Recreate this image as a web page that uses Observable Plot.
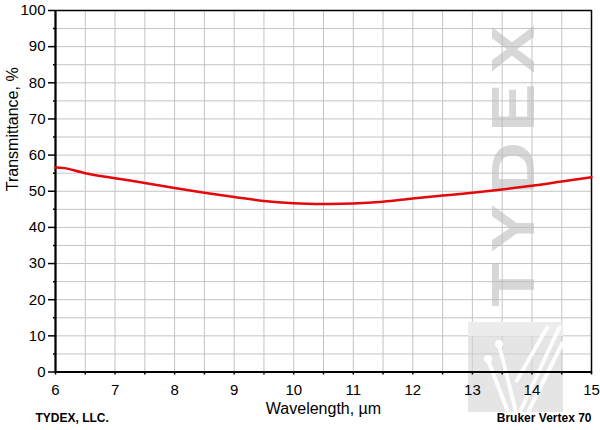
<!DOCTYPE html>
<html><head><meta charset="utf-8">
<script src="https://cdn.jsdelivr.net/npm/d3@7"></script>
<script src="https://cdn.jsdelivr.net/npm/@observablehq/plot@0.6"></script>
<style>
body{margin:0;background:#fff}
#chart svg{font-family:"Liberation Sans",Arial,sans-serif;background:#fff}
</style>
</head><body><div id="chart"></div>
<script>
const wavelength = [6.0, 6.15, 6.5, 7.0, 7.5, 8.0, 8.5, 9.0, 9.5, 10.0, 10.5, 11.0, 11.5, 12.0, 12.5, 13.0, 13.5, 14.0, 14.5, 15.0];
const transmittance = [56.6, 56.4, 55.0, 53.6, 52.3, 50.9, 49.6, 48.4, 47.3, 46.7, 46.5, 46.6, 47.1, 48.0, 48.8, 49.6, 50.5, 51.5, 52.7, 53.9];
const xMajor = [6, 7, 8, 9, 10, 11, 12, 13, 14, 15];
const xMinor = [6.5, 7.5, 8.5, 9.5, 10.5, 11.5, 12.5, 13.5, 14.5];
const yMajor = [0, 10, 20, 30, 40, 50, 60, 70, 80, 90, 100];
const yMinor = [5, 15, 25, 35, 45, 55, 65, 75, 85, 95];
const xLabel = "Wavelength, µm";
const yLabel = "Transmittance, %";
const leftNote = "TYDEX, LLC.";
const rightNote = "Bruker Vertex 70";
const watermark = "TYDEX";

const data = wavelength.map((w, i) => ({w, t: transmittance[i]}));

function watermarkMark(index, scales, values, dim) {
  const g = d3.create("svg:g");
  const cx = dim.width - dim.marginRight - 79;
  const cy = dim.marginTop + 151;
  g.append("text")
    .attr("transform", `translate(${cx},${cy}) rotate(-90) scale(1.17,1)`)
    .attr("text-anchor", "middle")
    .attr("dominant-baseline", "central")
    .attr("font-size", 62)
    .attr("font-weight", "bold")
    .attr("letter-spacing", 8.5)
    .attr("fill", "#bcbcbc")
    .attr("fill-opacity", 0.6)
    .text(watermark);
  // logo block
  const lx = dim.width - dim.marginRight - 123, ly = dim.height - 108;
  const lg = g.append("g").attr("transform", `translate(${lx},${ly})`);
  lg.append("rect").attr("width", 95).attr("height", 90).attr("fill", "#d4d4d4").attr("fill-opacity", 0.6);
  lg.append("rect").attr("x", 0).attr("y", 0).attr("width", 95).attr("height", 14).attr("fill", "#ececec");
  const w = [[31,23,48,90],[20,38,40,90],[52,90,92,4],[60,90,95,20],[48,60,80,4]];
  w.forEach(([x1,y1,x2,y2]) => lg.append("line").attr("x1",x1).attr("y1",y1).attr("x2",x2).attr("y2",y2)
    .attr("stroke","#fff").attr("stroke-width",4).attr("stroke-opacity",0.9));
  lg.append("circle").attr("cx",31).attr("cy",22).attr("r",4).attr("fill","#fff");
  lg.append("circle").attr("cx",20).attr("cy",37).attr("r",4).attr("fill","#fff");
  return g.node();
}

const chart = Plot.plot({
  width: 600,
  height: 430,
  marginLeft: 55,
  marginRight: 9,
  marginTop: 10,
  marginBottom: 58.5,
  style: {fontFamily: '"Liberation Sans", Arial, sans-serif', fontSize: "14px", color: "#000", background: "#fff"},
  x: {domain: [6, 15]},
  y: {domain: [0, 100]},
  marks: [
    Plot.gridX([...xMajor, ...xMinor], {stroke: "#c4c4c4", strokeOpacity: 1}),
    Plot.gridY([...yMajor, ...yMinor], {stroke: "#c4c4c4", strokeOpacity: 1}),
    watermarkMark,
    Plot.axisX(xMinor, {tickSize: 3, tickFormat: () => "", stroke: "#000", strokeWidth: 1.5, label: null}),
    Plot.axisX(xMajor, {tickSize: 3, tickPadding: 9, fontSize: 15, stroke: "#000", strokeWidth: 1.5, fill: "#000", label: null}),
    Plot.axisY(yMinor, {tickSize: 2, tickFormat: () => "", stroke: "#000", strokeWidth: 1.5, label: null}),
    Plot.axisY(yMajor, {tickSize: 7, tickPadding: 3, fontSize: 15, stroke: "#000", strokeWidth: 1.5, fill: "#000", label: null}),
    Plot.frame({stroke: "#000", strokeWidth: 1.5}),
    Plot.ruleX([6], {stroke: "#000", strokeWidth: 2}),
    Plot.ruleY([0], {stroke: "#000", strokeWidth: 2}),
    Plot.line(data, {x: "w", y: "t", stroke: "#e4080a", strokeWidth: 2.5, curve: "catmull-rom"}),
    Plot.text([xLabel], {frameAnchor: "bottom", dy: 42, fontSize: 16, fill: "#000"}),
    Plot.text([yLabel], {frameAnchor: "left", dx: -43, rotate: -90, fontSize: 16, fill: "#000"}),
    Plot.text([leftNote], {frameAnchor: "bottom-left", dx: -20, dy: 50, fontSize: 12, fontWeight: "bold", textAnchor: "start", fill: "#000"}),
    Plot.text([rightNote], {frameAnchor: "bottom-right", dy: 50, fontSize: 12, fontWeight: "bold", textAnchor: "end", fill: "#000"})
  ]
});
document.getElementById("chart").append(chart);
</script>
</body></html>
